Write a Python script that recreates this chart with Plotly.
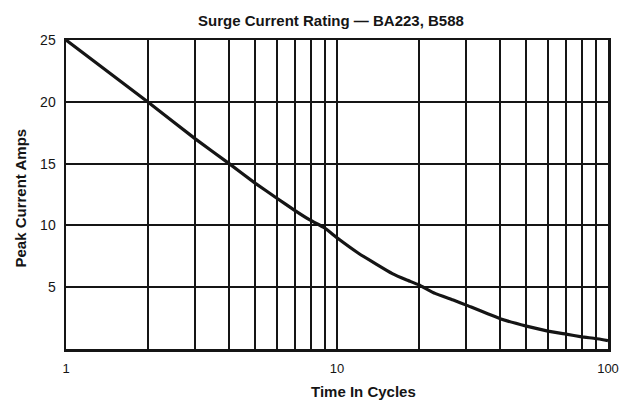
import plotly.graph_objects as go

# Data
time_cycles = [1, 2, 3, 4, 5, 6, 7, 8, 9, 10, 12, 14, 16, 18, 20, 23, 27, 30, 40, 50, 60, 70, 80, 90, 100]
peak_amps = [25, 20, 17.0, 15.0, 13.4, 12.2, 11.2, 10.4, 9.8, 9.0, 7.75, 6.85, 6.1, 5.6, 5.2, 4.5, 3.95, 3.55, 2.45, 1.85, 1.45, 1.2, 0.98, 0.85, 0.68]

x_grid = [1, 2, 3, 4, 5, 6, 7, 8, 9, 10, 20, 30, 40, 50, 60, 70, 80, 90, 100]
x_labels = ["1", "", "", "", "", "", "", "", "", "10", "", "", "", "", "", "", "", "", "100"]
y_ticks = [5, 10, 15, 20, 25]
y_labels = ["5", "10", "15", "20", "25"]

title_text = "Surge Current Rating \u2014 BA223, B588"
x_title = "Time In Cycles"
y_title = "Peak Current Amps"

FONT = "Liberation Sans, Arial, Helvetica, sans-serif"
INK = "#151515"

L, R, T, B = 66, 18, 40, 53
PW = 631 - L - R
PH = 402 - T - B

fig = go.Figure()
fig.add_trace(go.Scatter(
    x=time_cycles, y=peak_amps, mode="lines",
    line=dict(color=INK, width=3.2, shape="spline", smoothing=0.3),
    hoverinfo="skip", showlegend=False,
))

fig.update_layout(
    width=631, height=402,
    margin=dict(l=L, r=R, t=T, b=B),
    paper_bgcolor="white", plot_bgcolor="white",
    font=dict(family=FONT, color=INK),
    showlegend=False,
    hovermode=False,
    annotations=[
        dict(text="<b>" + title_text + "</b>", xref="paper", yref="paper",
             x=(333 - L) / PW, y=1, yshift=20, xanchor="center", yanchor="middle",
             showarrow=False, font=dict(size=15, family=FONT, color=INK)),
        dict(text="<b>" + x_title + "</b>", xref="paper", yref="paper",
             x=(366 - L) / PW, y=0, yshift=-42, xanchor="center", yanchor="middle",
             showarrow=False, font=dict(size=15, family=FONT, color=INK)),
        dict(text="<b>" + y_title + "</b>", xref="paper", yref="paper",
             x=0, xshift=-46, y=0.5, yshift=-4, xanchor="center", yanchor="middle", textangle=-90,
             showarrow=False, font=dict(size=15, family=FONT, color=INK)),
    ],
)

fig.update_xaxes(
    type="log", range=[0, 2],
    tickmode="array", tickvals=x_grid, ticktext=x_labels,
    showgrid=True, gridcolor=INK, gridwidth=2,
    showline=True, linecolor=INK, linewidth=2.5, mirror=True,
    ticks="", ticklabelstandoff=6, tickfont=dict(size=13, family=FONT, color=INK),
    zeroline=False, fixedrange=True,
)
fig.update_yaxes(
    range=[0, 25],
    tickmode="array", tickvals=y_ticks, ticktext=y_labels,
    showgrid=True, gridcolor=INK, gridwidth=2,
    showline=True, linecolor=INK, linewidth=2.5, mirror=True,
    ticks="", ticklabelstandoff=5, tickfont=dict(size=14, family=FONT, color=INK),
    zeroline=False, fixedrange=True,
)

fig.write_html("out.html", config={"displayModeBar": False, "staticPlot": True},
               post_script="document.body.style.margin='0';")
